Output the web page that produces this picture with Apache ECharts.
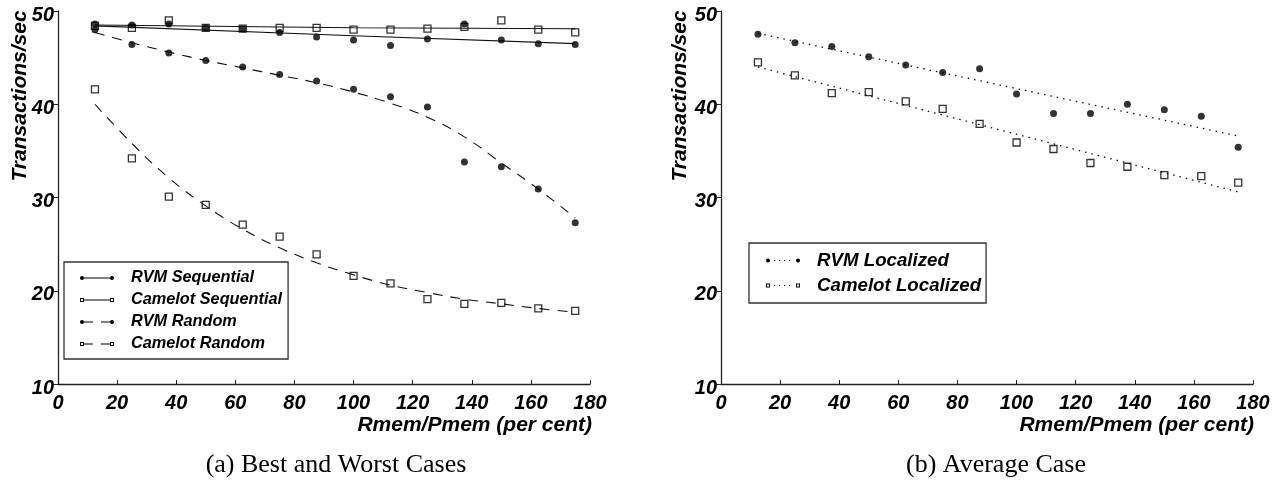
<!DOCTYPE html>
<html>
<head>
<meta charset="utf-8">
<script src="https://cdn.jsdelivr.net/npm/echarts@6/dist/echarts.min.js"></script>
<style>
html,body{margin:0;padding:0;background:#fff;}
#chart{width:1282px;height:481px;}
</style>
</head>
<body>
<div id="chart"></div>
<script>
// ---------- data ----------
var xVals = [12.5, 25, 37.5, 50, 62.5, 75, 87.5, 100, 112.5, 125, 137.5, 150, 162.5, 175];
var xTicks = [0, 20, 40, 60, 80, 100, 120, 140, 160, 180];
var yTicks = [10, 20, 30, 40, 50];

// (a) measured points
var rvmSeq  = [48.6, 48.5, 48.6, 48.2, 48.1, 47.7, 47.2, 46.9, 46.3, 47.0, 48.6, 46.9, 46.5, 46.4];
var camSeq  = [48.4, 48.2, 49.0, 48.2, 48.1, 48.2, 48.2, 48.0, 48.0, 48.1, 48.3, 49.0, 48.0, 47.7];
var rvmRand = [48.0, 46.4, 45.5, 44.7, 44.0, 43.2, 42.5, 41.6, 40.8, 39.7, 33.8, 33.3, 30.9, 27.3];
var camRand = [41.6, 34.2, 30.1, 29.2, 27.1, 25.8, 23.9, 21.6, 20.8, 19.1, 18.6, 18.7, 18.1, 17.85];

// (a) fitted curves
var seqFitX     = [12.5, 100, 175];
var rvmSeqFit   = [48.4, 47.35, 46.5];
var camSeqFit   = [48.5, 48.2, 48.1];
var rvmRandFit  = [47.7, 46.6, 45.6, 44.7, 43.9, 43.1, 42.3, 41.3, 40.1, 38.6, 36.5, 33.7, 30.9, 27.8];
var camRandFit  = [40.0, 35.8, 32.1, 29.1, 26.6, 24.6, 23.0, 21.7, 20.6, 19.8, 19.1, 18.6, 18.1, 17.7];

// (b) measured points
var rvmLoc = [47.5, 46.6, 46.2, 45.1, 44.2, 43.4, 43.8, 41.1, 39.0, 39.0, 40.0, 39.4, 38.7, 35.4];
var camLoc = [44.5, 43.1, 41.2, 41.3, 40.3, 39.5, 37.9, 35.9, 35.2, 33.7, 33.3, 32.4, 32.3, 31.6];

// (b) fitted lines
var locFitX    = [12.5, 175];
var rvmLocFit  = [47.6, 36.6];
var camLocFit  = [44.0, 30.6];

var legendA = ['RVM Sequential', 'Camelot Sequential', 'RVM Random', 'Camelot Random'];
var legendB = ['RVM Localized', 'Camelot Localized'];
var yTitle = 'Transactions/sec';
var xTitle = 'Rmem/Pmem (per cent)';
var captionA = '(a) Best and Worst Cases';
var captionB = '(b) Average Case';

// ---------- helpers ----------
function zip(xs, ys){ return xs.map(function(x,i){ return [x, ys[i]]; }); }

var FONT = 'Liberation Sans, Arial, Helvetica, sans-serif';

// legend icons (dot/square at each end, line pattern between)
var dotL = 'M0,3A2,2,0,1,1,4,3A2,2,0,1,1,0,3Z';
var dotR = 'M30,3A2,2,0,1,1,34,3A2,2,0,1,1,30,3Z';
var sqL = 'M0,1L4,1L4,5L0,5ZM0.9,1.9L0.9,4.1L3.1,4.1L3.1,1.9Z';
var sqR = 'M30,1L34,1L34,5L30,5ZM30.9,1.9L30.9,4.1L33.1,4.1L33.1,1.9Z';
var solid = 'M3,2.5L31,2.5L31,3.5L3,3.5Z';
var dashed = 'M3,2.5L13,2.5L13,3.5L3,3.5ZM21,2.5L31,2.5L31,3.5L21,3.5Z';
var dotted = 'M8,2.4L9.2,2.4L9.2,3.6L8,3.6ZM13,2.4L14.2,2.4L14.2,3.6L13,3.6ZM18,2.4L19.2,2.4L19.2,3.6L18,3.6ZM23,2.4L24.2,2.4L24.2,3.6L23,3.6Z';
var icons = {
  'RVM Sequential': 'path://' + dotL + solid + dotR,
  'Camelot Sequential': 'path://' + sqL + solid + sqR,
  'RVM Random': 'path://' + dotL + dashed + dotR,
  'Camelot Random': 'path://' + sqL + dashed + sqR,
  'RVM Localized': 'path://' + dotL + dotted + dotR,
  'Camelot Localized': 'path://' + sqL + dotted + sqR
};

var tickRich = {t: {fontFamily: FONT, fontSize: 20, fontStyle: 'italic', fontWeight: 'bold', color: '#000', padding: [8, 0, 0, 0]}};

function makeX(gi){
  return {
    type: 'value', gridIndex: gi, min: 0, max: 180, interval: 20,
    axisLine: {show: true, onZero: false, lineStyle: {color: '#222', width: 1.3}},
    axisTick: {show: true, inside: true, length: 4, lineStyle: {color: '#222', width: 1}},
    splitLine: {show: false},
    axisLabel: {show: true, margin: 9, color: '#000', fontFamily: FONT, fontSize: 20,
      fontStyle: 'italic', fontWeight: 'bold',
      formatter: function(v){ return xTicks.indexOf(v) >= 0 ? String(v) : ''; }}
  };
}
function makeY(gi){
  return {
    type: 'value', gridIndex: gi, min: 10, max: 50, interval: 10,
    axisLine: {show: true, onZero: false, lineStyle: {color: '#222', width: 1.3}},
    axisTick: {show: true, inside: false, length: 4, lineStyle: {color: '#222', width: 1}},
    splitLine: {show: false},
    axisLabel: {show: true, margin: 4, color: '#000', fontFamily: FONT, fontSize: 20,
      fontStyle: 'italic', fontWeight: 'bold', rich: tickRich,
      formatter: function(v){ return yTicks.indexOf(v) >= 0 ? '{t|' + v + '}' : ''; }}
  };
}
function fitLine(name, xi, xs, ys, type, smooth){
  return {
    name: name, type: 'line', xAxisIndex: xi, yAxisIndex: xi,
    data: zip(xs, ys), showSymbol: false, symbol: 'none', smooth: smooth || false,
    lineStyle: {color: '#111', width: type === 'dotted' ? 1.3 : 1.1,
      type: type === 'dashed' ? [10, 8] : (type === 'dotted' ? [1.5, 5] : 'solid')},
    itemStyle: {color: '#000'}, z: 2, silent: true
  };
}
function pts(name, xi, ys, square){
  return {
    name: name, type: 'scatter', xAxisIndex: xi, yAxisIndex: xi,
    data: zip(xVals, ys), symbol: square ? 'rect' : 'circle', symbolSize: 7,
    itemStyle: square ? {color: 'rgba(255,255,255,0)', borderColor: '#000', borderWidth: 1.3}
                      : {color: '#000'},
    z: 3, silent: true
  };
}
function legendData(names){
  return names.map(function(n){ return {name: n, icon: icons[n]}; });
}
var legendText = {color: '#000', fontFamily: FONT, fontStyle: 'italic', fontWeight: 'bold'};

var option = {
  animation: false,
  backgroundColor: '#fff',
  grid: [
    {left: 58, top: 11, width: 532, height: 373, containLabel: false},
    {left: 721, top: 11, width: 532, height: 373, containLabel: false}
  ],
  xAxis: [makeX(0), makeX(1)],
  yAxis: [makeY(0), makeY(1)],
  legend: [
    {
      data: legendData(legendA), orient: 'vertical', left: 64, top: 262,
      itemWidth: 34, itemHeight: 4, itemGap: 6, padding: [8, 6, 7, 16],
      borderColor: '#333', borderWidth: 1.3, backgroundColor: '#fff', borderRadius: 0,
      itemStyle: {color: '#000', borderWidth: 0}, lineStyle: {width: 0},
      selectedMode: false,
      textStyle: Object.assign({fontSize: 16.3, lineHeight: 16, padding: [0, 0, 0, 12]}, legendText)
    },
    {
      data: legendData(legendB), orient: 'vertical', left: 749, top: 243,
      itemWidth: 34, itemHeight: 4, itemGap: 6, padding: [8, 5, 8, 17],
      borderColor: '#333', borderWidth: 1.3, backgroundColor: '#fff', borderRadius: 0,
      itemStyle: {color: '#000', borderWidth: 0}, lineStyle: {width: 0},
      selectedMode: false,
      textStyle: Object.assign({fontSize: 18.7, lineHeight: 19, padding: [0, 0, 0, 12]}, legendText)
    }
  ],
  graphic: [
    {type: 'text', x: 20, y: 96, rotation: Math.PI / 2, silent: true,
      style: {text: yTitle, fill: '#000', font: 'italic bold 21px ' + FONT, textAlign: 'center', textVerticalAlign: 'middle'}},
    {type: 'text', x: 680, y: 96, rotation: Math.PI / 2, silent: true,
      style: {text: yTitle, fill: '#000', font: 'italic bold 21px ' + FONT, textAlign: 'center', textVerticalAlign: 'middle'}},
    {type: 'text', x: 592, y: 425, silent: true,
      style: {text: xTitle, fill: '#000', font: 'italic bold 21px ' + FONT, textAlign: 'right', textVerticalAlign: 'middle'}},
    {type: 'text', x: 1254, y: 425, silent: true,
      style: {text: xTitle, fill: '#000', font: 'italic bold 21px ' + FONT, textAlign: 'right', textVerticalAlign: 'middle'}},
    {type: 'text', x: 336, y: 465, silent: true,
      style: {text: captionA, fill: '#000', font: '26px Liberation Serif, Times New Roman, serif', textAlign: 'center', textVerticalAlign: 'middle'}},
    {type: 'text', x: 996, y: 465, silent: true,
      style: {text: captionB, fill: '#000', font: '26px Liberation Serif, Times New Roman, serif', textAlign: 'center', textVerticalAlign: 'middle'}}
  ],
  series: [
    fitLine('RVM Sequential', 0, seqFitX, rvmSeqFit, 'solid'),
    fitLine('Camelot Sequential', 0, seqFitX, camSeqFit, 'solid'),
    fitLine('RVM Random', 0, xVals, rvmRandFit, 'dashed', 0.5),
    fitLine('Camelot Random', 0, xVals, camRandFit, 'dashed', 0.4),
    pts('RVM Sequential points', 0, rvmSeq, false),
    pts('Camelot Sequential points', 0, camSeq, true),
    pts('RVM Random points', 0, rvmRand, false),
    pts('Camelot Random points', 0, camRand, true),
    fitLine('RVM Localized', 1, locFitX, rvmLocFit, 'dotted'),
    fitLine('Camelot Localized', 1, locFitX, camLocFit, 'dotted'),
    pts('RVM Localized points', 1, rvmLoc, false),
    pts('Camelot Localized points', 1, camLoc, true)
  ]
};
var chart = echarts.init(document.getElementById('chart'), null, {renderer: 'canvas'});
chart.setOption(option);
</script>
</body>
</html>
